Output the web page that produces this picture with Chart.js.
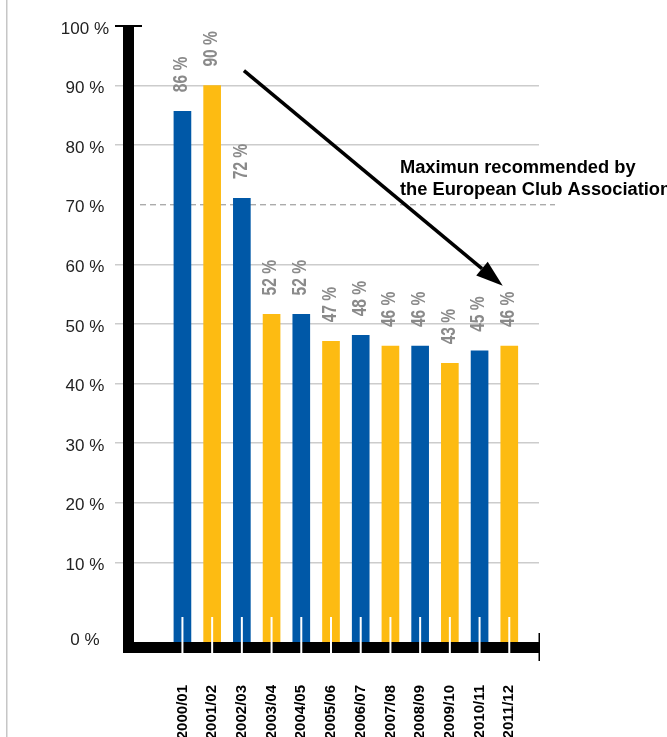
<!DOCTYPE html>
<html>
<head>
<meta charset="utf-8">
<script src="https://cdn.jsdelivr.net/npm/chart.js@4/dist/chart.umd.min.js"></script>
<style>
  html, body { margin: 0; padding: 0; background: #fff; }
  #wrap { width: 667px; height: 737px; position: relative; }
</style>
</head>
<body>
<div id="wrap"><canvas id="barChart" width="667" height="737"></canvas></div>
<script>
// data
const seasons = ['2000/01', '2001/02', '2002/03', '2003/04', '2004/05', '2005/06',
  '2006/07', '2007/08', '2008/09', '2009/10', '2010/11', '2011/12'];
const wageShares = [85.7, 90, 71.1, 51.6, 51.6, 47.1, 48.1, 46.3, 46.3, 43.4, 45.5, 46.3];
const wageLabels = ['86 %', '90 %', '72 %', '52 %', '52 %', '47 %', '48 %', '46 %', '46 %', '43 %', '45 %', '46 %'];
const yTicks = [10, 20, 30, 40, 50, 60, 70, 80, 90, 100];
const ecaLimit = 70;
const noteLines = ['Maximun recommended by', 'the European Club Association'];

// styles
const BLUE = '#0058a7';
const YELLOW = '#fdbb12';
const FONT = "'Liberation Sans', Arial, sans-serif";
const Y_MIN = -4.2;
const ZERO_LABEL_AT = -2.6;

function $(selector) {
  return document.querySelector(selector);
}

function barColors() {
  return wageShares.map((v, i) => (i % 2 === 0 ? BLUE : YELLOW));
}

// plugin: axes, limit line, labels, arrow
const decorations = {
  id: 'decorations',
  beforeDraw(chart) {
    const ctx = chart.ctx;
    ctx.save();
    ctx.fillStyle = '#c6c6c6';
    ctx.fillRect(6, 0, 1.5, chart.height);
    ctx.restore();
  },
  beforeDatasetsDraw(chart) {
    const { ctx, chartArea, scales: { y } } = chart;
    const yy = y.getPixelForValue(ecaLimit);
    ctx.save();
    ctx.strokeStyle = '#8a8a8a';
    ctx.lineWidth = 1;
    ctx.setLineDash([6, 4]);
    ctx.beginPath();
    ctx.moveTo(chartArea.left + 17, yy);
    ctx.lineTo(chartArea.right + 16, yy);
    ctx.stroke();
    ctx.restore();
  },
  afterDatasetsDraw(chart) {
    const { ctx, chartArea, scales: { x, y } } = chart;
    const left = chartArea.left;
    const bottom = chartArea.bottom;
    ctx.save();
    // axes
    ctx.fillStyle = '#000';
    ctx.fillRect(left, bottom - 5, chartArea.right - left, 11);
    ctx.fillRect(left, y.getPixelForValue(100), 11, bottom + 6 - y.getPixelForValue(100));
    ctx.fillRect(left - 8, y.getPixelForValue(100) - 1, 27, 2);
    ctx.fillRect(chartArea.right - 0.5, bottom - 14, 1.5, 28);
    // white ticks
    ctx.fillStyle = '#fff';
    seasons.forEach((s, i) => {
      const px = x.getPixelForValue(i);
      ctx.fillRect(px - 1, bottom - 30, 2, 36);
    });
    // value labels
    ctx.fillStyle = '#8a8a8a';
    ctx.font = 'bold 21px ' + FONT;
    ctx.textAlign = 'left';
    ctx.textBaseline = 'middle';
    wageShares.forEach((v, i) => {
      const px = x.getPixelForValue(i) - 1;
      const py = y.getPixelForValue(v) - 19;
      ctx.save();
      ctx.translate(px, py);
      ctx.rotate(-Math.PI / 2);
      ctx.scale(0.74, 1);
      ctx.fillText(wageLabels[i], 0, 0);
      ctx.restore();
    });
    // arrow
    const x0 = x.getPixelForValue(2.07);
    const y0 = y.getPixelForValue(92.5);
    const x1 = x.getPixelForValue(10.78);
    const y1 = y.getPixelForValue(56.4);
    const ang = Math.atan2(y1 - y0, x1 - x0);
    const headLen = 27;
    const headW = 9;
    const bx = x1 - headLen * Math.cos(ang);
    const by = y1 - headLen * Math.sin(ang);
    ctx.strokeStyle = '#000';
    ctx.lineWidth = 3.5;
    ctx.beginPath();
    ctx.moveTo(x0, y0);
    ctx.lineTo(bx, by);
    ctx.stroke();
    ctx.fillStyle = '#000';
    ctx.beginPath();
    ctx.moveTo(x1, y1);
    ctx.lineTo(bx + headW * Math.sin(ang), by - headW * Math.cos(ang));
    ctx.lineTo(bx - headW * Math.sin(ang), by + headW * Math.cos(ang));
    ctx.closePath();
    ctx.fill();
    // note
    ctx.font = 'bold 18.3px ' + FONT;
    ctx.textBaseline = 'alphabetic';
    const nx = x.getPixelForValue(7.32);
    const ny = y.getPixelForValue(75.4);
    noteLines.forEach((line, i) => {
      ctx.fillText(line, nx, ny + i * 22.3);
    });
    ctx.restore();
  }
};

const chart = new Chart($('#barChart').getContext('2d'), {
  type: 'bar',
  data: {
    datasets: [{
      data: wageShares.map((v, i) => ({ x: i, y: v })),
      backgroundColor: barColors(),
      borderWidth: 0,
      barThickness: 17,
      base: Y_MIN
    }]
  },
  options: {
    responsive: false,
    animation: false,
    layout: { padding: { left: 0, right: 128, top: 26, bottom: 0 } },
    plugins: { legend: { display: false }, tooltip: { enabled: false } },
    scales: {
      x: {
        type: 'linear',
        offset: false,
        min: -2,
        max: 12,
        afterBuildTicks(scale) {
          scale.ticks = seasons.map((s, i) => ({ value: i }));
        },
        afterFit(scale) {
          scale.height = 90;
        },
        grid: { display: false, drawTicks: false, offset: false },
        border: { display: false },
        ticks: {
          autoSkip: false,
          minRotation: 90,
          maxRotation: 90,
          padding: 38,
          color: '#000',
          font: { family: FONT, size: 15, weight: 'bold' },
          callback: v => seasons[v]
        }
      },
      y: {
        min: Y_MIN,
        max: 100,
        afterBuildTicks(scale) {
          scale.ticks = [ZERO_LABEL_AT].concat(yTicks).map(v => ({ value: v }));
        },
        afterFit(scale) {
          scale.width = 123;
        },
        grid: {
          tickLength: 8,
          lineWidth: 1.5,
          color: c => (c.tick && (c.tick.value < 0 || c.tick.value === ecaLimit || c.tick.value === 100) ? 'rgba(0,0,0,0)' : '#cccccc')
        },
        border: { display: false },
        ticks: {
          crossAlign: 'center',
          padding: 6,
          labelOffset: 3,
          color: '#222',
          font: { family: FONT, size: 17 },
          callback: v => (v < 0 ? '0 %' : v + ' %')
        }
      }
    }
  },
  plugins: [decorations]
});
</script>
</body>
</html>
